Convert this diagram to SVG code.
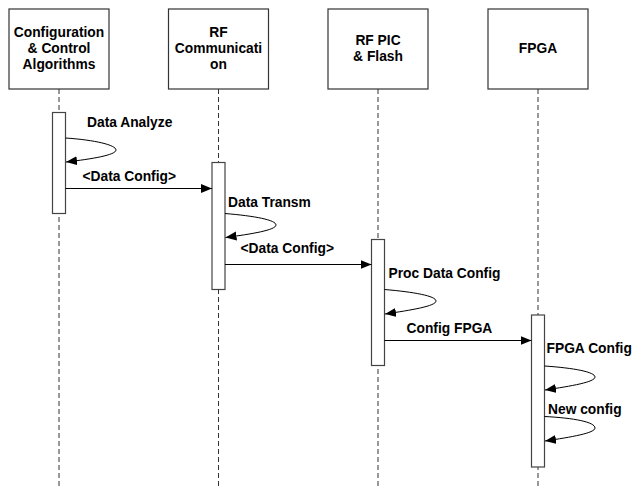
<svg xmlns="http://www.w3.org/2000/svg" width="633" height="488" viewBox="0 0 633 488">
  <defs>
    <marker id="arrow" markerUnits="userSpaceOnUse" markerWidth="12" markerHeight="10" refX="11" refY="4.5" orient="auto">
      <path d="M0,0 L11,4.5 L0,9 Z" fill="#000"/>
    </marker>
    <style>
      text { font-family: "Liberation Sans", Arial, sans-serif; font-weight: bold; font-size: 13.8px; fill: #000; }
      .head { fill: #fff; stroke: #333; stroke-width: 1.2; }
      .life { stroke: #333; stroke-width: 1; stroke-dasharray: 5 3; fill: none; }
      .act { fill: #fff; stroke: #444; stroke-width: 1.2; }
      .msg { stroke: #000; stroke-width: 1; fill: none; marker-end: url(#arrow); }
      .mid { text-anchor: middle; }
    </style>
  </defs>
  <rect width="633" height="488" fill="#fff"/>

  <!-- lifelines -->
  <g id="lifelines">
    <line class="life" x1="59" y1="89" x2="59" y2="488"/>
    <line class="life" x1="218.5" y1="89" x2="218.5" y2="488"/>
    <line class="life" x1="378" y1="89" x2="378" y2="488"/>
    <line class="life" x1="538" y1="89" x2="538" y2="488"/>
  </g>

  <!-- participants -->
  <g id="config-control">
    <rect class="head" x="9" y="9" width="100" height="80"/>
    <text class="mid" x="59" y="37">Configuration</text>
    <text class="mid" x="59" y="53">&amp; Control</text>
    <text class="mid" x="59" y="69">Algorithms</text>
    <rect class="act" x="52.5" y="112.5" width="13" height="101"/>
  </g>
  <g id="rf-communication">
    <rect class="head" x="168.5" y="9" width="100" height="80"/>
    <text class="mid" x="218.5" y="37">RF</text>
    <text class="mid" x="218.5" y="53">Communicati</text>
    <text class="mid" x="218.5" y="69">on</text>
    <rect class="act" x="212" y="162.5" width="13" height="127"/>
  </g>
  <g id="rf-pic-flash">
    <rect class="head" x="328" y="9" width="100" height="80"/>
    <text class="mid" x="378" y="45">RF PIC</text>
    <text class="mid" x="378" y="61">&amp; Flash</text>
    <rect class="act" x="371.5" y="239.5" width="13" height="126"/>
  </g>
  <g id="fpga">
    <rect class="head" x="488" y="9" width="100" height="80"/>
    <text class="mid" x="538" y="53">FPGA</text>
    <rect class="act" x="531.5" y="315" width="13" height="152"/>
  </g>

  <!-- messages -->
  <g id="connectors">
    <path class="msg" d="M65.5,138 C95,140 116,145 116,150 C116,155 92,159 66,162"/>
    <line class="msg" x1="65.5" y1="188.5" x2="212" y2="188.5"/>
    <path class="msg" d="M225,213.5 C255,216 276,220 276,225 C276,230 252,234 225.5,237.5"/>
    <line class="msg" x1="225" y1="264.5" x2="371.5" y2="264.5"/>
    <path class="msg" d="M384.5,289.5 C414,292 436,296 436,301 C436,306 412,310 385,314"/>
    <line class="msg" x1="384.5" y1="340.5" x2="531.5" y2="340.5"/>
    <path class="msg" d="M544.5,366 C574,368 595,372 595,377 C595,382 572,386 545,390"/>
    <path class="msg" d="M544.5,416.5 C574,418 595,422 595,428 C595,433 572,437 545,441"/>
  </g>

  <!-- message labels -->
  <g id="labels">
    <text x="87" y="127">Data Analyze</text>
    <text x="82.5" y="181">&lt;Data Config&gt;</text>
    <text x="228" y="207">Data Transm</text>
    <text x="240.5" y="253">&lt;Data Config&gt;</text>
    <text x="388.5" y="278">Proc Data Config</text>
    <text x="406.5" y="332.5">Config FPGA</text>
    <text x="546.5" y="353">FPGA Config</text>
    <text x="548" y="413.5">New config</text>
  </g>
</svg>
